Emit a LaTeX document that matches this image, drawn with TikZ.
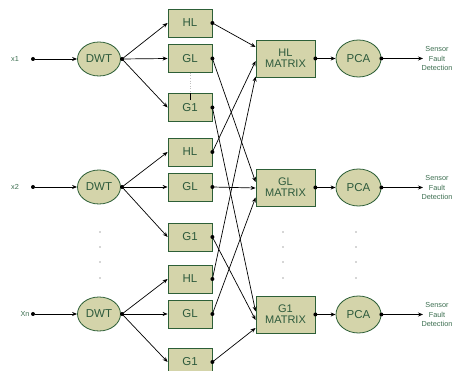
\documentclass[tikz,border=0pt]{standalone}
\usepackage{fontspec}
\setmainfont{Liberation Sans}
\usetikzlibrary{arrows.meta,calc,shapes.geometric}
\definecolor{fillc}{RGB}{212,212,170}
\definecolor{edgec}{RGB}{45,95,55}
\definecolor{txtc}{RGB}{45,90,60}
\definecolor{lblc}{RGB}{60,110,80}
\tikzset{
  x=1pt,y=-1pt,
  box/.style={draw=edgec,fill=fillc,line width=0.8pt,minimum width=44pt,minimum height=28pt,inner sep=0pt,text=txtc,font=\fontsize{11.5}{11.5}\selectfont},
  mbox/.style={draw=edgec,fill=fillc,line width=0.8pt,minimum width=59pt,minimum height=37pt,inner sep=0pt,text=txtc,align=center,font=\fontsize{11}{11}\selectfont},
  oval/.style={draw=edgec,fill=fillc,line width=0.8pt,ellipse,minimum width=43pt,minimum height=34pt,inner sep=0pt,text=txtc,font=\fontsize{11.5}{11.5}\selectfont},
  pca/.style={oval,minimum width=45pt,minimum height=37pt},
  lbl/.style={text=lblc,font=\fontsize{7.3}{9.3}\selectfont,align=center,inner sep=0pt},
  con/.style={line width=0.7pt,-{Stealth[length=5pt,width=4pt]}},
  dotc/.style={circle,fill=black,inner sep=0pt,minimum size=4pt},
  sdot/.style={circle,fill=black!70,inner sep=0pt,minimum size=1.4pt},
}
\begin{document}
\begin{tikzpicture}
\useasboundingbox (0,0) rectangle (459,371);
% inputs
\foreach \n/\y/\t/\lx in {1/59/x1/15,2/187/x2/15,3/314/Xn/25}{
  \node[lbl] (lab\n) at (\lx,\y) {\t};
  \node[dotc] (in\n) at (33,\y) {};
  \node[oval] (dwt\n) at (99,\y) {DWT};
  \node[dotc] (dwo\n) at (122,\y) {};
  \draw[con] (in\n) -- (dwt\n.west);
}
% boxes
\foreach \n/\ya/\yb/\yc in {1/23/58.5/107.5,2/152/187/237,3/279/314/362}{
  \node[box] (hl\n) at (190,\ya) {HL};
  \node[box] (gl\n) at (190,\yb) {GL};
  \node[box] (go\n) at (190,\yc) {G1};
  \node[dotc] (hlo\n) at (hl\n.east) {};
  \node[dotc] (glo\n) at (gl\n.east) {};
  \node[dotc] (goo\n) at (go\n.east) {};
  \draw[con] (dwo\n.center) -- (hl\n.west);
  \draw[con] (dwo\n.center) -- (gl\n.west);
  \draw[con] (dwo\n.center) -- (go\n.west);
}
% matrices
\node[mbox] (hlm) at (285.5,58.5) {HL\\MATRIX};
\node[mbox] (glm) at (285.5,187.5) {GL\\MATRIX};
\node[mbox] (gom) at (285.5,314.5) {G1\\MATRIX};
\draw[con] (hlo1.center) -- ([yshift=11.5pt]hlm.west);
\draw[con] (hlo2.center) -- ([yshift=-2.5pt]hlm.west);
\draw[con] (hlo3.center) -- ([yshift=-18pt]hlm.west);
\draw[con] (glo1.center) -- ([yshift=5.5pt]glm.west);
\draw[con] (glo2.center) -- ([yshift=-0.5pt]glm.west);
\draw[con] (glo3.center) -- ([yshift=-10pt]glm.west);
\draw[con] (goo1.center) -- ([yshift=3pt]gom.west);
\draw[con] (goo2.center) -- ([yshift=-5.5pt]gom.west);
\draw[con] (goo3.center) -- ([yshift=-13.5pt]gom.west);
% PCA and outputs
\foreach \m/\y in {hlm/58.5,glm/187.5,gom/314.5}{
  \node[dotc] (\m o) at (\m.east) {};
  \node[pca] (\m p) at (358.5,\y) {PCA};
  \node[dotc] (\m q) at (\m p.east) {};
  \coordinate (\m e) at (423,\y);
  \node[lbl] (\m s) at (437,\y) {Sensor\\Fault\\Detection};
  \draw[con] (\m o.center) -- (\m p.west);
  \draw[con] (\m q.center) -- (\m e);
}
% artifact between GL1 and G1
\draw[black!25,dotted,line width=0.6pt] (gl1.south) -- ([yshift=-7pt]go1.north);
\draw[black,line width=0.7pt] ([yshift=-7pt]go1.north) -- (go1.north);
% vertical dots
\foreach \y in {232,247,262,278}{
  \node[sdot] at (100,\y) {};
  \node[sdot] at (283,\y) {};
  \node[sdot] at (356,\y) {};
}
\end{tikzpicture}
\end{document}
